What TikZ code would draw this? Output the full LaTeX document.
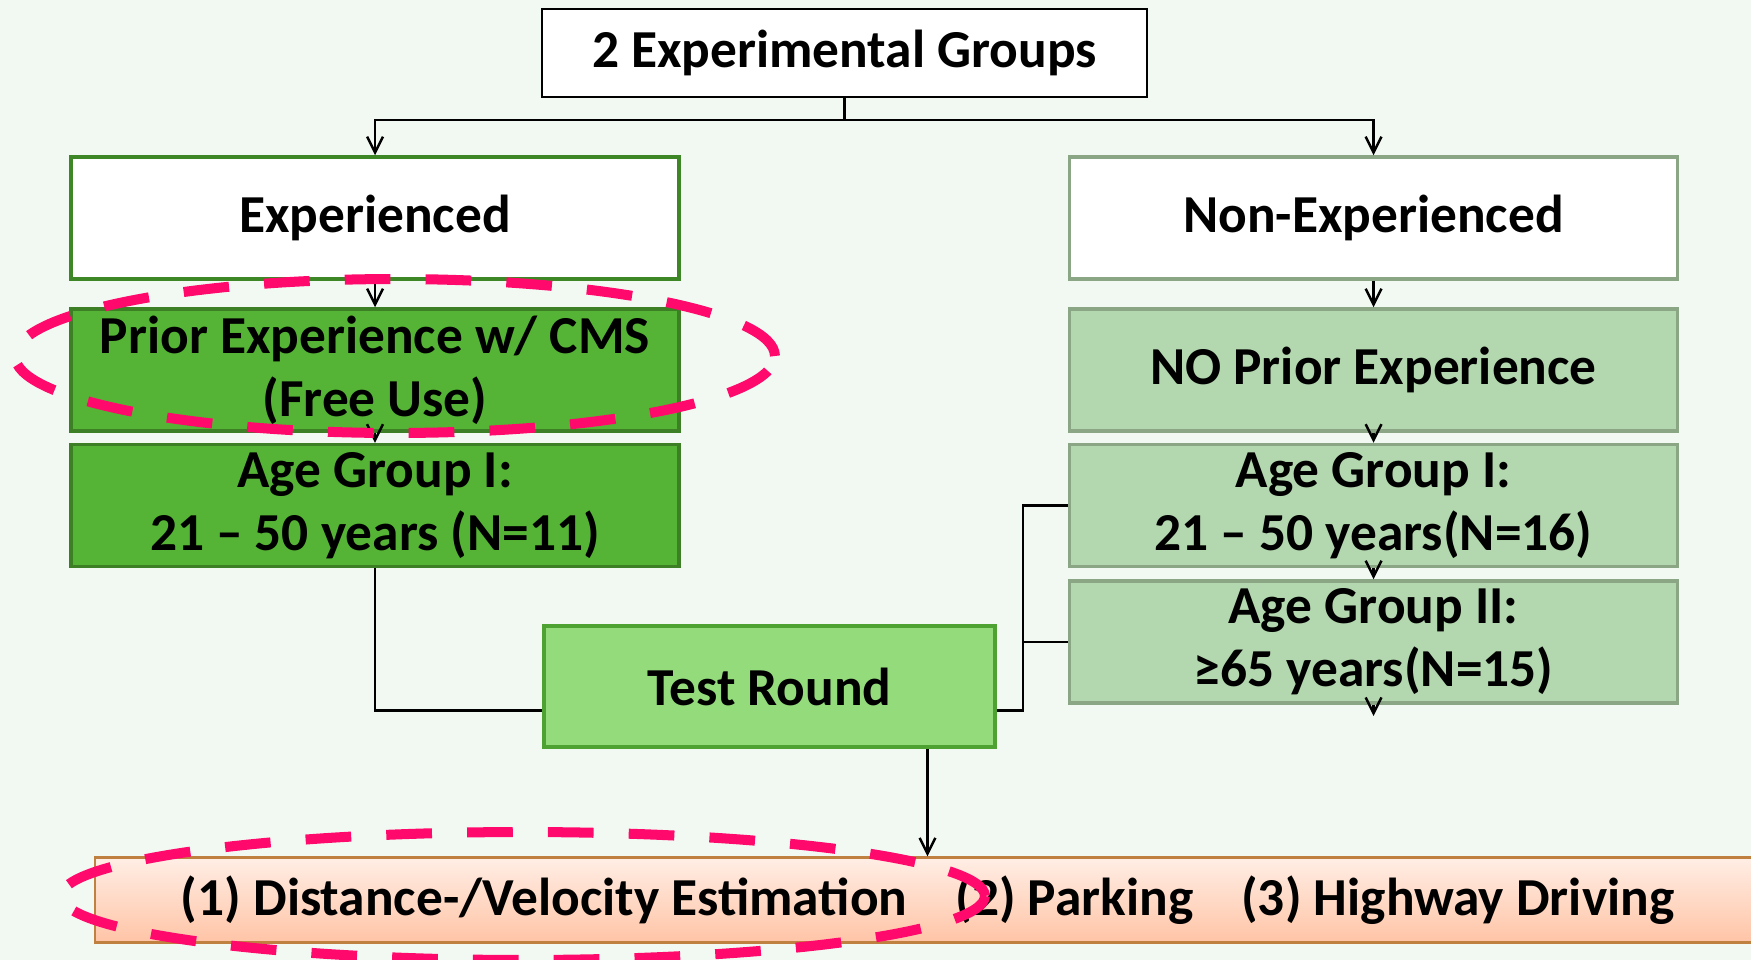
\documentclass[tikz,border=0pt]{standalone}
\usepackage{fontspec}
\setmainfont{Carlito}
\usetikzlibrary{arrows.meta, positioning}

\definecolor{pagebg}{RGB}{242,249,242}
\definecolor{expline}{RGB}{62,135,38}
\definecolor{nonline}{RGB}{138,166,132}
\definecolor{darkfill}{RGB}{85,180,53}
\definecolor{darkline}{RGB}{60,127,37}
\definecolor{lightfill}{RGB}{179,215,174}
\definecolor{testfill}{RGB}{148,219,124}
\definecolor{testline}{RGB}{78,162,50}
\definecolor{bartop}{RGB}{255,238,229}
\definecolor{barbot}{RGB}{255,196,166}
\definecolor{barline}{RGB}{192,128,64}
\definecolor{ringpink}{RGB}{255,10,108}

\begin{document}
\begin{tikzpicture}[x=0.02cm, y=-0.02cm,
    font=\fontsize{30.4}{35.7}\selectfont\bfseries,
    box/.style={draw, align=center, minimum width=12.16cm, minimum height=2.44cm, inner sep=0pt, line width=2pt},
    arr/.style={-{Straight Barb[length=9pt, width=9pt]}, line width=1.4pt},
    link/.style={line width=1.4pt},
    hilite/.style={draw=ringpink, line width=5.7pt, dash pattern=on 26pt off 20pt}]
    \path [use as bounding box, fill=pagebg] (0,0) rectangle (1751,960);

    \node (groups) [box, fill=white, draw=black, line width=1pt, minimum width=12.1cm, minimum height=1.76cm] at (844.5,53) {2 Experimental Groups};
    \node (exp) [box, fill=white, draw=expline] at (375,218) {Experienced};
    \node (prior) [box, fill=darkfill, draw=darkline] at (375,370) {Prior Experience w/ CMS\\(Free Use)};
    \node (agel) [box, fill=darkfill, draw=darkline] at (375,505.5) {Age Group I:\\21 -- 50 years (N=11)};
    \node (nonexp) [box, fill=white, draw=nonline] at (1373.5,218) {Non-Experienced};
    \node (noprior) [box, fill=lightfill, draw=nonline] at (1373.5,370) {NO Prior Experience};
    \node (ager1) [box, fill=lightfill, draw=nonline] at (1373.5,505.5) {Age Group I:\\21 -- 50 years(N=16)};
    \node (ager2) [box, fill=lightfill, draw=nonline] at (1373.5,642) {Age Group II:\\≥65 years(N=15)};
    \node (test) [box, fill=testfill, draw=testline, minimum width=9.02cm, minimum height=2.42cm] at (769.5,686.5) {Test Round};
    \node (tasks) [draw=barline, line width=1.2pt, top color=bartop, bottom color=barbot, minimum width=33.3cm, minimum height=1.7cm, inner sep=0pt] at (927.5,900) {(1) Distance-/Velocity Estimation\hspace{0.96cm}(2) Parking\hspace{0.96cm}(3) Highway Driving};
    \coordinate (below2) at (1373.5,716);

    \draw [link] (groups.south) -- ++(0,22) coordinate (split);
    \draw [arr] (split) -| (exp.north);
    \draw [arr] (split) -| (nonexp.north);
    \path [arr]
      (exp) edge (prior)
      (prior) edge (agel)
      (nonexp) edge (noprior)
      (noprior) edge (ager1)
      (ager1) edge (ager2)
      (ager2) edge (below2);

    \draw [link] (agel.south) |- ([yshift=-0.48cm]test.west);
    \draw [link] ([yshift=-0.48cm]test.east) -| ([xshift=-0.9cm]ager1.west) -- (ager1.west);
    \draw [link] (ager2.west) -- ++(-45,0);
    \draw [arr] (test.south -| tasks.north) -- (tasks.north);

    % highlighted parts
    \draw [hilite] (395,356) ellipse [x radius=7.6cm, y radius=1.54cm];
    \draw [hilite] (523,896) ellipse [x radius=9.24cm, y radius=1.28cm];
\end{tikzpicture}
\end{document}
